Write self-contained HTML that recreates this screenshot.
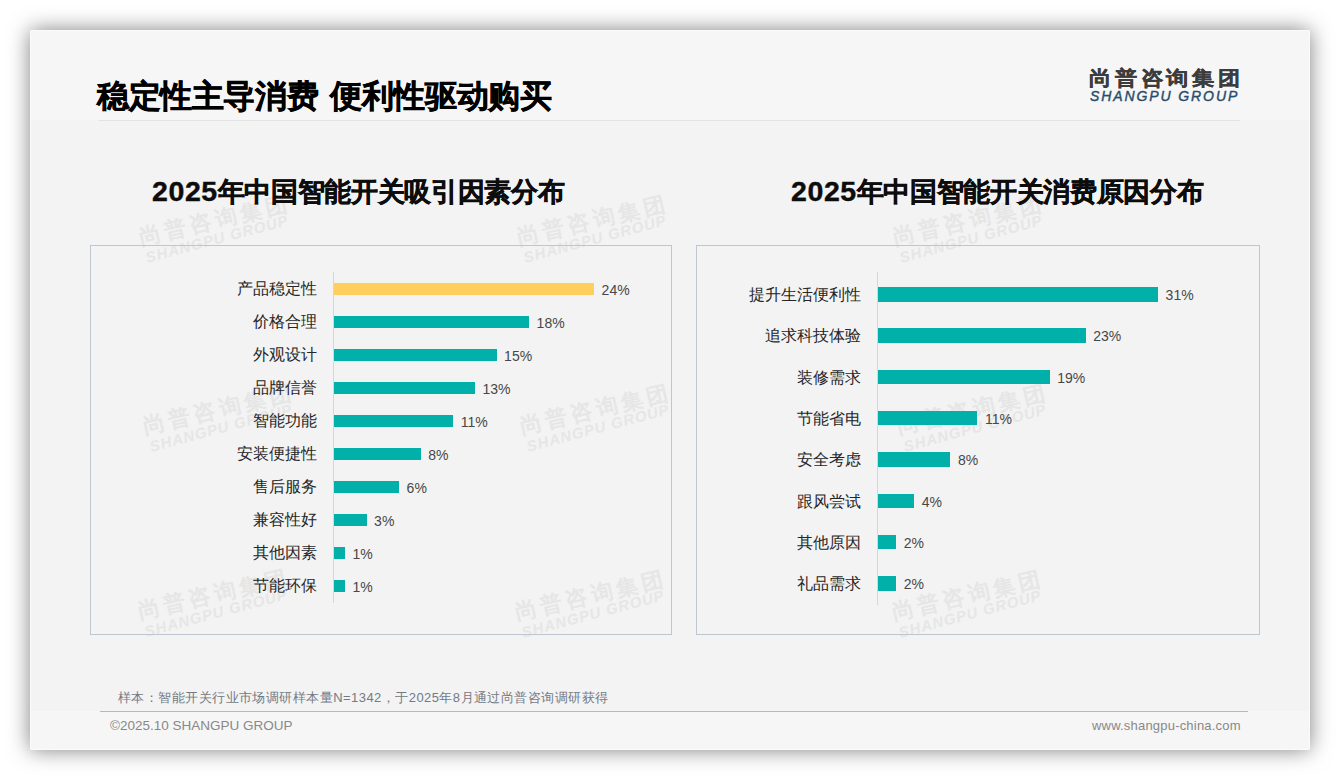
<!DOCTYPE html>
<html><head><meta charset="utf-8">
<style>
*{margin:0;padding:0;box-sizing:border-box}
html,body{width:1340px;height:780px;background:#fff;overflow:hidden;font-family:"Liberation Sans",sans-serif}
#slide{position:absolute;left:30px;top:30px;width:1280px;height:720px;background:#f3f3f3;box-shadow:0 0 21px rgba(0,0,0,0.5);overflow:hidden;border-radius:2px}
#slide:after{content:"";position:absolute;left:0;top:0;right:0;bottom:0;border:1px solid #fbfbfb;border-radius:2px;pointer-events:none}
.abs{position:absolute;white-space:nowrap}
#hdr{position:absolute;left:0;top:0;width:1280px;height:90px;background:#f6f6f6}
#ftr{position:absolute;left:0;top:681px;width:1280px;height:39px;background:#f6f6f6}
.title{left:67px;top:46px;font-size:32px;letter-spacing:-0.4px;word-spacing:3.5px;font-weight:bold;color:#000;line-height:40px;-webkit-text-stroke:0.5px #000}
.hline{left:69px;top:90px;width:1141px;height:1px;background:#e2e2e2}
.logo1{left:1059px;top:34px;font-size:22px;font-weight:bold;color:#3c3c3c;letter-spacing:3.8px;line-height:26px;-webkit-text-stroke:0.4px #3c3c3c;transform:scaleY(0.9);transform-origin:0 30px}
.logo2{left:1060px;top:58px;font-size:14px;font-weight:normal;font-style:italic;color:#274d6d;letter-spacing:1.9px;line-height:16px;-webkit-text-stroke:0.4px #274d6d}
.ctitle{font-size:27px;letter-spacing:-0.35px;font-weight:bold;color:#0d0d0d;line-height:32px;-webkit-text-stroke:0.4px #0d0d0d}
.box{position:absolute;border:1px solid #bec7d0}
.lbl{position:absolute;font-size:16px;color:#262626;line-height:20px;text-align:right;white-space:nowrap}
.bar{position:absolute;background:#02b0aa}
.pct{position:absolute;font-size:14px;color:#474747;line-height:16px;white-space:nowrap}
.axis{position:absolute;width:1px;background:#d6d6d6}
.note{left:88px;top:659px;font-size:13px;color:#737a84;line-height:18px;letter-spacing:0.45px}
.fline{left:70px;top:681px;width:1148px;height:1px;background:#b0bac4}
.copy{left:80px;top:687px;font-size:13.5px;color:#888888;line-height:18px}
.url{left:1062px;top:687px;font-size:13px;color:#888888;line-height:18px;letter-spacing:0.2px}
.wm{position:absolute;width:0;height:0;transform:rotate(-15deg);transform-origin:0 0;color:#e6e6e6;white-space:nowrap}
.wm .a{position:absolute;left:0;top:-20px;font-size:22px;font-weight:bold;letter-spacing:4px;line-height:22px;transform:rotate(2deg);transform-origin:0 100%}
.wm .b{position:absolute;left:2px;top:4px;font-size:15px;font-weight:bold;font-style:italic;letter-spacing:1px;line-height:15px}
</style></head><body>
<div id="slide">
<div id="hdr"></div>
<div id="ftr"></div>

<!-- watermarks -->
<div class="wm" style="left:110.5px;top:216.5px"><div class="a">尚普咨询集团</div><div class="b">SHANGPU GROUP</div></div>
<div class="wm" style="left:488.7px;top:216.5px"><div class="a">尚普咨询集团</div><div class="b">SHANGPU GROUP</div></div>
<div class="wm" style="left:864.6px;top:217.0px"><div class="a">尚普咨询集团</div><div class="b">SHANGPU GROUP</div></div>
<div class="wm" style="left:114.6px;top:405.5px"><div class="a">尚普咨询集团</div><div class="b">SHANGPU GROUP</div></div>
<div class="wm" style="left:491.5px;top:405.8px"><div class="a">尚普咨询集团</div><div class="b">SHANGPU GROUP</div></div>
<div class="wm" style="left:869.0px;top:405.7px"><div class="a">尚普咨询集团</div><div class="b">SHANGPU GROUP</div></div>
<div class="wm" style="left:110.0px;top:590.5px"><div class="a">尚普咨询集团</div><div class="b">SHANGPU GROUP</div></div>
<div class="wm" style="left:487.2px;top:592px"><div class="a">尚普咨询集团</div><div class="b">SHANGPU GROUP</div></div>
<div class="wm" style="left:863.9px;top:592px"><div class="a">尚普咨询集团</div><div class="b">SHANGPU GROUP</div></div>
<div class="abs title">稳定性主导消费 便利性驱动购买</div>
<div class="abs hline"></div>
<div class="abs logo1">尚普咨询集团</div>
<div class="abs logo2">SHANGPU GROUP</div>

<div class="abs ctitle" style="left:122px;top:145px"><span style="font-size:28.5px;letter-spacing:0.6px">2025</span>年中国智能开关吸引因素分布</div>
<div class="abs ctitle" style="left:761px;top:145px"><span style="font-size:28.5px;letter-spacing:0.6px">2025</span>年中国智能开关消费原因分布</div>

<div class="box" style="left:60px;top:215px;width:582px;height:390px"></div>
<div class="box" style="left:666px;top:215px;width:564px;height:390px"></div>

<!--CHARTS-->
<div class="axis" style="left:303px;top:242px;height:331px"></div>
<div class="lbl" style="right:993px;top:249.0px">产品稳定性</div>
<div class="bar" style="left:304px;top:253px;width:260.0px;height:12px;background:#ffcf5e"></div>
<div class="pct" style="left:571.6px;top:251.8px">24%</div>
<div class="lbl" style="right:993px;top:282.0px">价格合理</div>
<div class="bar" style="left:304px;top:286px;width:195.0px;height:12px;background:#02b0aa"></div>
<div class="pct" style="left:506.6px;top:284.8px">18%</div>
<div class="lbl" style="right:993px;top:315.0px">外观设计</div>
<div class="bar" style="left:304px;top:319px;width:162.5px;height:12px;background:#02b0aa"></div>
<div class="pct" style="left:474.1px;top:317.8px">15%</div>
<div class="lbl" style="right:993px;top:348.0px">品牌信誉</div>
<div class="bar" style="left:304px;top:352px;width:140.8px;height:12px;background:#02b0aa"></div>
<div class="pct" style="left:452.4px;top:350.8px">13%</div>
<div class="lbl" style="right:993px;top:381.0px">智能功能</div>
<div class="bar" style="left:304px;top:385px;width:119.2px;height:12px;background:#02b0aa"></div>
<div class="pct" style="left:430.8px;top:383.8px">11%</div>
<div class="lbl" style="right:993px;top:414.0px">安装便捷性</div>
<div class="bar" style="left:304px;top:418px;width:86.7px;height:12px;background:#02b0aa"></div>
<div class="pct" style="left:398.3px;top:416.8px">8%</div>
<div class="lbl" style="right:993px;top:447.0px">售后服务</div>
<div class="bar" style="left:304px;top:451px;width:65.0px;height:12px;background:#02b0aa"></div>
<div class="pct" style="left:376.6px;top:449.8px">6%</div>
<div class="lbl" style="right:993px;top:480.0px">兼容性好</div>
<div class="bar" style="left:304px;top:484px;width:32.5px;height:12px;background:#02b0aa"></div>
<div class="pct" style="left:344.1px;top:482.8px">3%</div>
<div class="lbl" style="right:993px;top:513.0px">其他因素</div>
<div class="bar" style="left:304px;top:517px;width:10.8px;height:12px;background:#02b0aa"></div>
<div class="pct" style="left:322.4px;top:515.8px">1%</div>
<div class="lbl" style="right:993px;top:546.0px">节能环保</div>
<div class="bar" style="left:304px;top:550px;width:10.8px;height:12px;background:#02b0aa"></div>
<div class="pct" style="left:322.4px;top:548.8px">1%</div>
<div class="axis" style="left:847px;top:242px;height:333px"></div>
<div class="lbl" style="right:449px;top:255.0px">提升生活便利性</div>
<div class="bar" style="left:848px;top:257.0px;width:280.0px;height:14.6px"></div>
<div class="pct" style="left:1135.6px;top:257.1px">31%</div>
<div class="lbl" style="right:449px;top:296.3px">追求科技体验</div>
<div class="bar" style="left:848px;top:298.3px;width:207.7px;height:14.6px"></div>
<div class="pct" style="left:1063.3px;top:298.4px">23%</div>
<div class="lbl" style="right:449px;top:337.6px">装修需求</div>
<div class="bar" style="left:848px;top:339.6px;width:171.6px;height:14.6px"></div>
<div class="pct" style="left:1027.2px;top:339.7px">19%</div>
<div class="lbl" style="right:449px;top:378.9px">节能省电</div>
<div class="bar" style="left:848px;top:380.9px;width:99.4px;height:14.6px"></div>
<div class="pct" style="left:955.0px;top:381.0px">11%</div>
<div class="lbl" style="right:449px;top:420.2px">安全考虑</div>
<div class="bar" style="left:848px;top:422.2px;width:72.3px;height:14.6px"></div>
<div class="pct" style="left:927.9px;top:422.3px">8%</div>
<div class="lbl" style="right:449px;top:461.5px">跟风尝试</div>
<div class="bar" style="left:848px;top:463.5px;width:36.1px;height:14.6px"></div>
<div class="pct" style="left:891.7px;top:463.6px">4%</div>
<div class="lbl" style="right:449px;top:502.8px">其他原因</div>
<div class="bar" style="left:848px;top:504.8px;width:18.1px;height:14.6px"></div>
<div class="pct" style="left:873.7px;top:504.9px">2%</div>
<div class="lbl" style="right:449px;top:544.1px">礼品需求</div>
<div class="bar" style="left:848px;top:546.1px;width:18.1px;height:14.6px"></div>
<div class="pct" style="left:873.7px;top:546.2px">2%</div>
<!--/CHARTS-->
<div class="abs note">样本：智能开关行业市场调研样本量N=1342，于2025年8月通过尚普咨询调研获得</div>
<div class="abs fline"></div>
<div class="abs copy">©2025.10 SHANGPU GROUP</div>
<div class="abs url">www.shangpu-china.com</div>
</div>
</body></html>
